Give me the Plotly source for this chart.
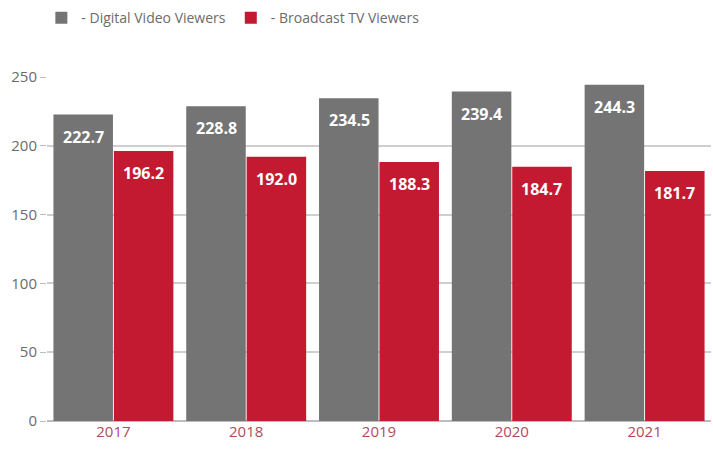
import plotly.graph_objects as go

years = ["2017", "2018", "2019", "2020", "2021"]
digital_video = [222.7, 228.8, 234.5, 239.4, 244.3]
broadcast_tv = [196.2, 192.0, 188.3, 184.7, 181.7]

FONT = "Open Sans, DejaVu Sans, sans-serif"
GRAY = "#747474"
RED = "#c41a31"

fig = go.Figure()
fig.add_trace(go.Bar(
    x=years, y=digital_video, name="- Digital Video Viewers",
    marker=dict(color=GRAY, line=dict(width=0)),
))
fig.add_trace(go.Bar(
    x=years, y=broadcast_tv, name="- Broadcast TV Viewers",
    marker=dict(color=RED, line=dict(width=0)),
))

# value labels sit just inside the top of each bar (x given as category index)
for series, shift in ((digital_video, -30), (broadcast_tv, 30)):
    for i, v in enumerate(series):
        fig.add_annotation(
            x=i, y=v, text=f"<b>{v:.1f}</b>", showarrow=False,
            xshift=shift, yshift=-9, yanchor="top",
            font=dict(family=FONT, size=16, color="white"),
        )

fig.update_layout(
    width=713, height=450,
    margin=dict(l=47, r=2, t=77, b=29),
    paper_bgcolor="white", plot_bgcolor="white",
    barmode="group", bargap=0.09, bargroupgap=0.015,
    font=dict(family=FONT, size=15, color="#6b6b6b"),
    legend=dict(
        orientation="h", xref="container", yref="container",
        x=0.058, y=0.995, xanchor="left", yanchor="top",
        font=dict(family=FONT, size=14, color="#6b6b6b"),
        itemwidth=30, traceorder="normal",
    ),
    xaxis=dict(
        type="category", range=[-0.5, len(years) - 0.5],
        showgrid=False, showline=False, ticks="",
        tickfont=dict(family=FONT, size=15, color="#b24a5b"),
    ),
    yaxis=dict(
        range=[0, 250], tickvals=[0, 50, 100, 150, 200, 250],
        showgrid=True, gridcolor="#cfcfcf", gridwidth=1.5,
        zeroline=True, zerolinecolor="#bdbdbd", zerolinewidth=1.5,
        ticks="outside", ticklen=6, tickcolor="#bdbdbd",
        tickfont=dict(family=FONT, size=15, color="#6b6b6b"),
        showline=False,
    ),
)

fig.write_html("out.html")
